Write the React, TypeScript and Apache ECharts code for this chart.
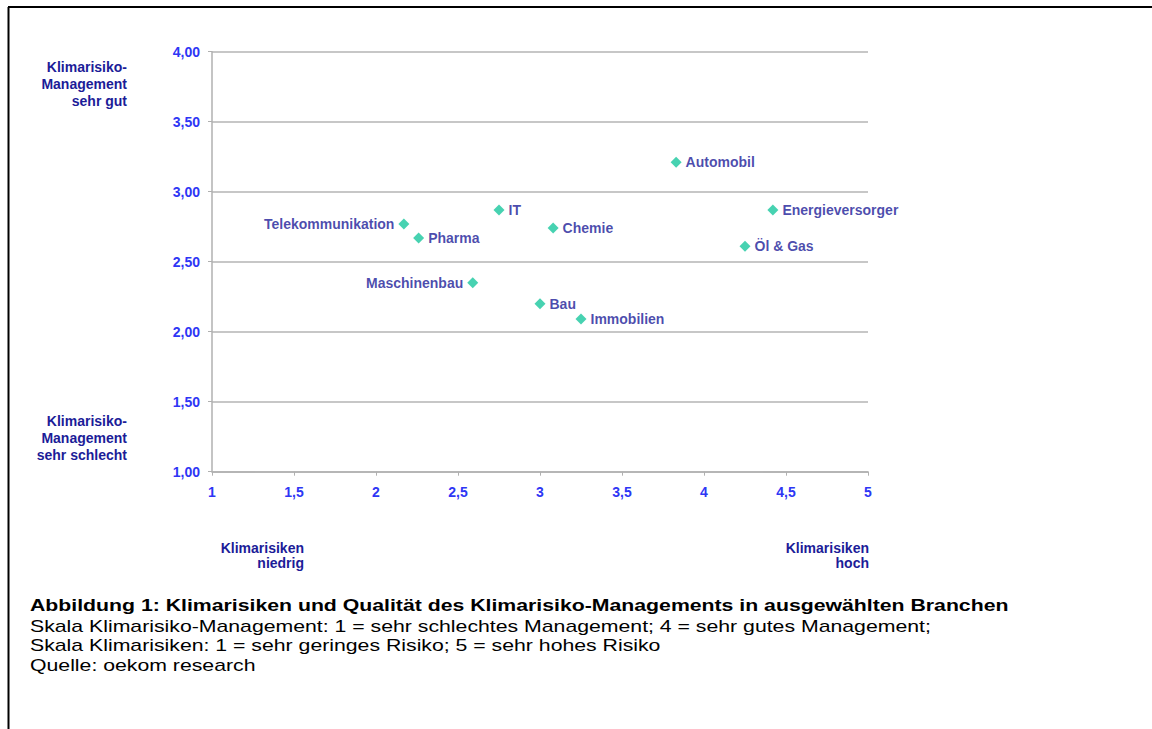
import React, { useEffect, useRef } from "react";
import * as echarts from "echarts";

const branchen = ["Automobil", "Energieversorger", "Öl & Gas", "IT", "Chemie", "Telekommunikation", "Pharma", "Maschinenbau", "Bau", "Immobilien"];
const klimarisiken = [3.83, 4.42, 4.25, 2.75, 3.08, 2.17, 2.26, 2.59, 3.0, 3.25];
const management = [3.21, 2.87, 2.61, 2.87, 2.74, 2.77, 2.67, 2.35, 2.2, 2.09];
const leftLabeled = ["Telekommunikation", "Maschinenbau"];

const captionLines = [
  "Abbildung 1: Klimarisiken und Qualität des Klimarisiko-Managements in ausgewählten Branchen",
  "Skala Klimarisiko-Management: 1 = sehr schlechtes Management; 4 = sehr gutes Management;",
  "Skala Klimarisiken: 1 = sehr geringes Risiko; 5 = sehr hohes Risiko",
  "Quelle: oekom research",
];

const FONT = "'Liberation Sans', Arial, Helvetica, sans-serif";
const NAVY = "#1c1c98";
const BLUE = "#2e36f5";

export default function App() {
  const ref = useRef<HTMLDivElement>(null);
  useEffect(() => {
    if (!ref.current) return;
    const chart = echarts.init(ref.current, null, { renderer: "svg" });
    const data = branchen.map((n, i) => ({
      name: n,
      value: [klimarisiken[i], management[i]],
      label: { position: leftLabeled.includes(n) ? "left" : "right" },
    }));
    const sideLabelStyle = {
      fontFamily: FONT,
      fontSize: 14,
      fontWeight: "bold",
      fill: NAVY,
      lineHeight: 17,
    };
    chart.setOption({
      animation: false,
      backgroundColor: "#ffffff",
      grid: { left: 212, right: 284, top: 51.7, bottom: 257.3, containLabel: false },
      xAxis: {
        type: "value",
        min: 1,
        max: 5,
        interval: 0.5,
        axisLine: { show: true, lineStyle: { color: "#b0b0b0", width: 1.5 } },
        axisTick: { show: true, length: 4, lineStyle: { color: "#b0b0b0" } },
        splitLine: { show: false },
        axisLabel: {
          margin: 13,
          color: BLUE,
          fontFamily: FONT,
          fontSize: 14,
          fontWeight: "bold",
          formatter: (v: number) => String(v).replace(".", ","),
        },
      },
      yAxis: {
        type: "value",
        min: 1,
        max: 4,
        interval: 0.5,
        axisLine: { show: true, lineStyle: { color: "#b0b0b0", width: 1.5 } },
        axisTick: { show: true, length: 4, lineStyle: { color: "#b0b0b0" } },
        splitLine: { show: true, lineStyle: { color: "#b4b4b4", width: 1.5 } },
        axisLabel: {
          margin: 12,
          color: BLUE,
          fontFamily: FONT,
          fontSize: 14,
          fontWeight: "bold",
          formatter: (v: number) => v.toFixed(2).replace(".", ","),
        },
      },
      series: [
        {
          type: "scatter",
          symbol: "diamond",
          symbolSize: 11,
          itemStyle: { color: "#19c79e" },
          label: {
            show: true,
            formatter: "{b}",
            distance: 4,
            color: NAVY,
            fontFamily: FONT,
            fontSize: 14,
            fontWeight: "bold",
          },
          data,
        },
      ],
      graphic: [
        { type: "line", shape: { x1: 8, y1: 7, x2: 1152, y2: 7 }, style: { stroke: "#000", lineWidth: 2 } },
        { type: "line", shape: { x1: 8.5, y1: 7, x2: 8.5, y2: 729 }, style: { stroke: "#000", lineWidth: 2 } },
        {
          type: "text",
          x: 127,
          y: 58,
          style: { ...sideLabelStyle, text: "Klimarisiko-\nManagement\nsehr gut", align: "right", verticalAlign: "top" },
        },
        {
          type: "text",
          x: 127,
          y: 412,
          style: { ...sideLabelStyle, text: "Klimarisiko-\nManagement\nsehr schlecht", align: "right", verticalAlign: "top" },
        },
        {
          type: "text",
          x: 304,
          y: 540,
          style: { ...sideLabelStyle, lineHeight: 15, text: "Klimarisiken\nniedrig", align: "right", verticalAlign: "top" },
        },
        {
          type: "text",
          x: 869,
          y: 540,
          style: { ...sideLabelStyle, lineHeight: 15, text: "Klimarisiken\nhoch", align: "right", verticalAlign: "top" },
        },
        ...captionLines.map((t, i) => ({
          type: "text",
          x: 30,
          y: [605, 626, 645, 665][i],
          scaleX: 1.25,
          style: {
            text: t,
            fontFamily: FONT,
            fontSize: 17,
            fontWeight: i === 0 ? "bold" : "normal",
            fill: "#000",
            align: "left",
            verticalAlign: "middle",
          },
        })),
      ],
    });
    return () => chart.dispose();
  }, []);
  return <div ref={ref} style={{ position: "absolute", left: 0, top: 0, width: 1152, height: 729 }} />;
}
